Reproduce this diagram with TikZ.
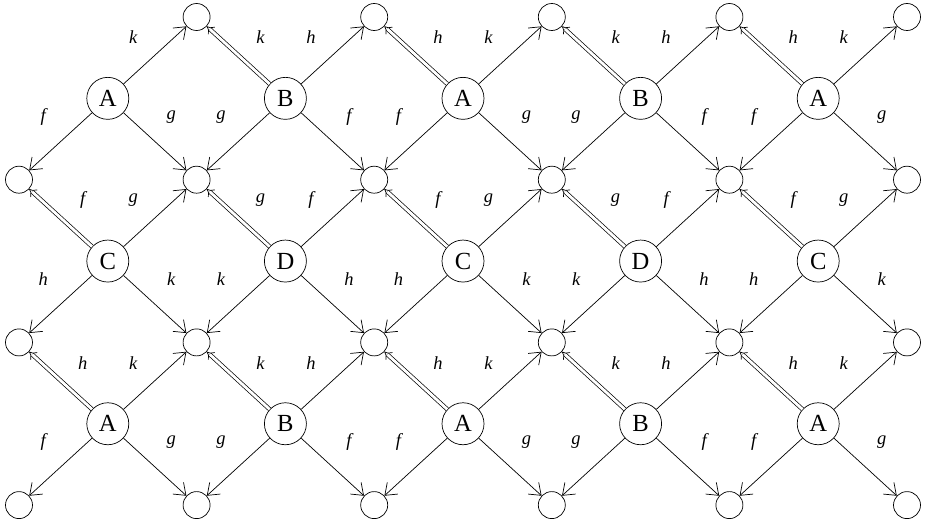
\documentclass[tikz,border=0pt]{standalone}
\usepackage{fontspec}
\setmainfont{Liberation Serif}
\usetikzlibrary{arrows.meta}

\begin{document}
\begin{tikzpicture}[x=1.776cm, y=1.627cm,
    big/.style={draw, circle, minimum size=0.84cm, inner sep=0pt, font=\fontsize{14}{16}\selectfont},
    dot/.style={draw, circle, minimum size=0.54cm, inner sep=0pt},
    lab/.style={font=\fontsize{10.5}{12}\selectfont\itshape},
    arr/.style={-{Straight Barb[length=6pt, width=9pt]}},
    dbl/.style={double, double distance=1.6pt, -{Implies[length=7pt, width=11pt]}}]
    % Frame of the page
    \useasboundingbox (-0.38cm,0.34cm) rectangle (18.12cm,-10.14cm);
    % Small circles: top row starts at the second column
    \foreach \c in {2,4,...,10}
        \node[dot] (s-\c-0) at (\c,0) {};
    \foreach \r in {2,4,6}
        \foreach \c in {0,2,...,10}
            \node[dot] (s-\c-\r) at (\c,-\r) {};
    % Lettered nodes with their labels (nw, ne, sw, se)
    \foreach \c/\r/\t/\a/\b/\d/\e in {1/1/A//k/f/g, 3/1/B/k/h/g/f, 5/1/A/h/k/f/g, 7/1/B/k/h/g/f, 9/1/A/h/k/f/g,
        1/3/C/f/g/h/k, 3/3/D/g/f/k/h, 5/3/C/f/g/h/k, 7/3/D/g/f/k/h, 9/3/C/f/g/h/k,
        1/5/A/h/k/f/g, 3/5/B/k/h/g/f, 5/5/A/h/k/f/g, 7/5/B/k/h/g/f, 9/5/A/h/k/f/g} {
        \node[big] (n-\c-\r) at (\c,-\r) {\t};
        \pgfmathtruncatemacro\cl{\c-1}
        \pgfmathtruncatemacro\cr{\c+1}
        \pgfmathtruncatemacro\ru{\r-1}
        \pgfmathtruncatemacro\rd{\r+1}
        % Arrows out of the node
        \draw[arr] (n-\c-\r) -- (s-\cr-\ru);
        \draw[arr] (n-\c-\r) -- (s-\cl-\rd);
        \draw[arr] (n-\c-\r) -- (s-\cr-\rd);
        \ifnum\c\r=11 \else
            \draw[dbl] (n-\c-\r) -- (s-\cl-\ru);
            \node[lab] (l-\c-\r-nw) at ([shift={(-0.5cm,1.22cm)}]n-\c-\r) {\a};
        \fi
        \node[lab] (l-\c-\r-ne) at ([shift={(0.51cm,1.22cm)}]n-\c-\r) {\b};
        \node[lab] (l-\c-\r-sw) at ([shift={(-1.29cm,-0.37cm)}]n-\c-\r) {\d};
        \node[lab] (l-\c-\r-se) at ([shift={(1.27cm,-0.37cm)}]n-\c-\r) {\e};
    }
\end{tikzpicture}
\end{document}
